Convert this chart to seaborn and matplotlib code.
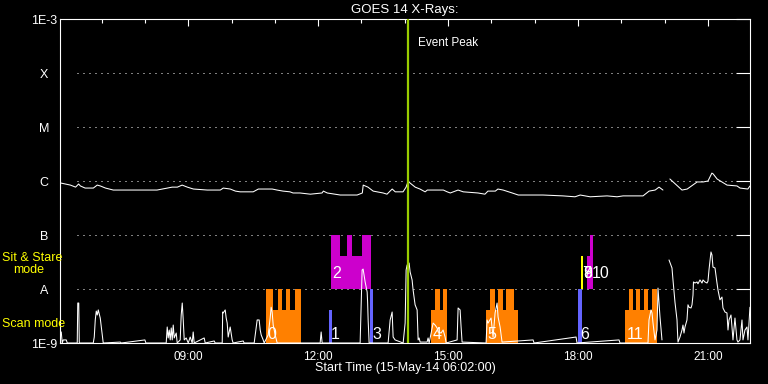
import matplotlib
matplotlib.use('Agg')

import matplotlib.pyplot as plt
from matplotlib.ticker import NullLocator, FixedLocator
import seaborn as sns
import pandas as pd
import numpy as np

# GOES long channel (1-8 A), hours of day / W m^-2
long_hours = [6.05, 6.28, 6.40, 6.47, 6.51, 6.62, 6.81, 6.90, 6.97, 7.09, 7.27, 7.62,
              7.89, 8.08, 8.28, 8.52, 8.63, 8.75, 8.86, 8.98, 9.12, 9.44, 9.74, 9.81,
              9.97, 10.09, 10.20, 10.50, 10.62, 10.82, 10.94, 11.05, 11.19, 11.35, 11.42,
              11.58, 11.82, 12.09, 12.12, 12.21, 12.51, 12.90, 13.02, 13.04, 13.15, 13.27,
              13.50, 13.59, 13.66, 13.71, 13.78, 13.96, 14.03, 14.08, 14.12, 14.24, 14.35,
              14.47, 14.52, 14.89, 14.98, 15.05, 15.23, 15.35, 15.69, 15.85, 15.92, 16.09,
              16.15, 16.27, 16.48, 16.62, 16.96, 17.19, 17.65, 17.93, 18.05, 18.28, 18.67,
              18.90, 19.04, 19.38, 19.50, 19.64, 19.78, 19.87, 19.96]
long_flux = [9.2e-7, 8.4e-7, 7.7e-7, 8.8e-7, 8.1e-7, 7.4e-7, 7.4e-7, 8.4e-7, 8.1e-7, 7.4e-7,
             6.8e-7, 6.8e-7, 6.8e-7, 6.8e-7, 6.8e-7, 7.4e-7, 7.7e-7, 7.7e-7, 8.4e-7, 7.7e-7,
             7.1e-7, 6.8e-7, 6.8e-7, 7.4e-7, 7.1e-7, 6.5e-7, 6.3e-7, 6.3e-7, 7.1e-7, 7.1e-7,
             7.1e-7, 6.8e-7, 6.5e-7, 6.3e-7, 6.0e-7, 6.0e-7, 5.7e-7, 6.0e-7, 6.5e-7, 6.0e-7,
             5.5e-7, 5.5e-7, 6.0e-7, 8.4e-7, 7.7e-7, 6.5e-7, 6.0e-7, 5.7e-7, 6.5e-7, 7.1e-7,
             6.3e-7, 6.3e-7, 7.7e-7, 1.0e-6, 9.2e-7, 7.7e-7, 7.1e-7, 6.3e-7, 6.8e-7, 6.8e-7,
             6.3e-7, 6.0e-7, 6.8e-7, 6.3e-7, 6.0e-7, 5.7e-7, 6.5e-7, 6.5e-7, 7.1e-7, 6.8e-7,
             6.0e-7, 5.5e-7, 5.5e-7, 5.5e-7, 5.3e-7, 5.1e-7, 5.5e-7, 5.1e-7, 5.3e-7, 5.1e-7,
             5.3e-7, 5.3e-7, 5.3e-7, 6.5e-7, 6.8e-7, 7.7e-7, 6.8e-7]
long_hours_2 = [20.12, 20.40, 20.52, 20.75, 20.89, 21.00, 21.09, 21.12, 21.21, 21.44,
                21.67, 21.74, 21.92, 21.97]
long_flux_2 = [1.09e-6, 6.8e-7, 7.1e-7, 9.6e-7, 9.6e-7, 1.0e-6, 1.4e-6, 1.35e-6, 1.09e-6,
               8.4e-7, 8.1e-7, 7.4e-7, 7.1e-7, 8.1e-7]

# GOES short channel (0.5-4 A)
short_hours = [6.046, 6.069, 6.092, 6.115, 6.185, 6.208, 6.438, 6.45, 6.473, 6.485, 6.808,
               6.831, 6.854, 6.877, 6.9, 6.923, 6.969, 7.015, 7.038, 7.431, 7.454, 8.0, 8.023,
               8.492, 8.515, 8.538, 8.562, 8.585, 8.608, 8.631, 8.654, 8.677, 8.723, 8.746,
               8.815, 8.838, 8.862, 8.885, 8.908, 8.954, 9.0, 9.046, 9.092, 9.115, 9.138,
               9.369, 9.392, 9.6, 9.623, 9.785, 9.796, 9.808, 9.854, 9.877, 9.9, 9.923, 9.969,
               10.015, 10.038, 10.269, 10.292, 10.523, 10.569, 10.592, 10.638, 10.662, 10.685,
               10.731, 10.754, 10.846, 10.892, 10.915, 10.938, 10.962, 11.008, 11.054, 12.046,
               12.069, 12.092, 12.969, 13.015, 13.038, 13.085, 13.131, 13.142, 13.154, 13.177,
               13.615, 13.662, 13.708, 13.731, 13.777, 13.962, 14.008, 14.031, 14.054, 14.1,
               14.123, 14.169, 14.192, 14.238, 14.285, 14.308, 14.331, 14.354, 14.515, 14.538,
               14.562, 14.654, 14.7, 14.746, 14.769, 14.838, 14.885, 14.931, 14.954, 15.208,
               15.231, 15.277, 15.3, 15.323, 15.877, 15.9, 15.923, 15.992, 16.038, 16.085,
               16.131, 16.154, 16.2, 16.246, 16.962, 16.985, 17.954, 17.977, 18.946, 18.969,
               19.615, 19.638, 19.685, 19.708, 19.731, 19.777, 19.823, 19.846, 19.892, 19.915,
               19.938]
short_flux = [1.6e-9, 1.6e-9, 1.0e-9, 1.14e-9, 1.14e-9, 1.0e-9, 1.0e-9, 5.5e-9, 5.5e-9, 1.0e-9,
              1.0e-9, 1.29e-9, 2.67e-9, 3.9e-9, 3.3e-9, 4.1e-9, 2.9e-9, 1.41e-9, 1.0e-9,
              1.04e-9, 1.0e-9, 1.14e-9, 1.0e-9, 1.0e-9, 1.98e-9, 1.24e-9, 1.74e-9, 1.14e-9,
              1.9e-9, 1.14e-9, 2.15e-9, 1.24e-9, 1.53e-9, 1.0e-9, 1.14e-9, 3.3e-9, 5.5e-9,
              2.67e-9, 1.14e-9, 1.24e-9, 1.0e-9, 1.29e-9, 1.0e-9, 1.6e-9, 1.0e-9, 1.24e-9,
              1.0e-9, 1.09e-9, 1.0e-9, 1.0e-9, 3.75e-9, 3.6e-9, 4.1e-9, 2.9e-9, 2.34e-9,
              1.29e-9, 1.98e-9, 1.14e-9, 1.0e-9, 1.09e-9, 1.0e-9, 1.0e-9, 1.9e-9, 2.67e-9,
              2.67e-9, 1.74e-9, 1.41e-9, 1.14e-9, 1.0e-9, 1.41e-9, 2.9e-9, 4.6e-9, 3.75e-9,
              2.15e-9, 1.41e-9, 1.0e-9, 1.0e-9, 1.6e-9, 1.0e-9, 1.0e-9, 2.25e-8, 2.34e-8,
              1.35e-8, 8.8e-9, 5.7e-9, 2.67e-9, 1.0e-9, 1.0e-9, 2.67e-9, 3.75e-9, 1.29e-9,
              1.14e-9, 1.0e-9, 2.34e-9, 2.25e-8, 2.78e-8, 3.03e-8, 2.07e-8, 1.47e-8, 9.6e-9,
              5.1e-9, 4.1e-9, 1.14e-9, 1.24e-9, 1.04e-9, 1.04e-9, 1.24e-9, 1.0e-9, 2.34e-9,
              2.15e-9, 1.9e-9, 1.6e-9, 1.53e-9, 1.74e-9, 1.29e-9, 1.0e-9, 1.14e-9, 4.45e-9,
              4.1e-9, 1.98e-9, 1.04e-9, 1.0e-9, 2.67e-9, 2.34e-9, 2.9e-9, 1.29e-9, 3.6e-9,
              5.5e-9, 3.03e-9, 1.98e-9, 1.04e-9, 1.14e-9, 1.0e-9, 1.29e-9, 1.0e-9, 1.14e-9,
              1.0e-9, 1.0e-9, 2.67e-9, 4.1e-9, 3.6e-9, 2.34e-9, 1.14e-9, 1.74e-9, 1.04e-8,
              3.03e-9, 1.9e-9, 1.14e-9]
short_hours_2 = [20.1, 20.169, 20.192, 20.238, 20.285, 20.296, 20.308, 20.354, 20.4, 20.423,
                 20.446, 20.469, 20.515, 20.538, 20.562, 20.608, 20.631, 20.654, 20.665, 20.7,
                 20.746, 20.769, 20.815, 20.862, 20.885, 20.931, 20.977, 21.0, 21.023, 21.069,
                 21.092, 21.115, 21.162, 21.208, 21.231, 21.277, 21.323, 21.346, 21.392,
                 21.438, 21.462, 21.485, 21.531, 21.554, 21.577, 21.623, 21.669, 21.692,
                 21.738, 21.785, 21.808, 21.854, 21.9, 21.923, 21.969]
short_flux_2 = [3.45e-8, 2.45e-8, 1.47e-8, 5.7e-9, 2.67e-9, 1.6e-9, 1.04e-9, 1.29e-9, 1.74e-9,
                2.15e-9, 1.53e-9, 1.98e-9, 2.67e-9, 5.1e-9, 4.6e-9, 4.45e-9, 5.1e-9, 7.7e-9,
                1.35e-8, 1.29e-8, 1.35e-8, 1.25e-8, 1.47e-8, 1.29e-8, 1.47e-8, 1.35e-8,
                1.29e-8, 1.4e-8, 2.25e-8, 4.85e-8, 4.27e-8, 2.55e-8, 2.45e-8, 1.29e-8, 9.6e-9,
                6.3e-9, 7.1e-9, 4.45e-9, 3.75e-9, 3.6e-9, 1.74e-9, 2.67e-9, 3.3e-9, 1.98e-9,
                1.14e-9, 2.9e-9, 1.14e-9, 1.04e-9, 1.14e-9, 2.67e-9, 1.14e-9, 1.74e-9,
                1.98e-9, 1.14e-9, 4.6e-9]

# observation blocks: start hour, end hour, low flux, high flux
orange_start = [10.80, 14.608, 15.877, 19.085,
                10.80, 11.077, 11.262, 11.469, 14.70, 14.885,
                15.969, 16.154, 16.338, 19.177, 19.338, 19.523, 19.708]
orange_end = [11.608, 14.977, 16.615, 19.823,
              10.962, 11.169, 11.354, 11.608, 14.815, 14.977,
              16.085, 16.269, 16.523, 19.269, 19.431, 19.615, 19.823]
orange_lo = [1e-9] * 4 + [4.1e-9] * 13
orange_hi = [4.1e-9] * 4 + [1e-8] * 13

magenta_start = [12.30, 12.30, 12.669, 13.015, 18.208, 18.277]
magenta_end = [13.223, 12.508, 12.785, 13.223, 18.346, 18.346]
magenta_lo = [1e-8, 4.1e-8, 4.1e-8, 4.1e-8, 1e-8, 4.1e-8]
magenta_hi = [4.1e-8, 1e-7, 1e-7, 1e-7, 4.1e-8, 1e-7]

yellow_start = [18.069, 18.082]
yellow_end = [18.105, 18.100]
yellow_lo = [1e-8, 1e-8]
yellow_hi = [4.1e-8, 1e-7]

blue_start = [12.254, 13.20, 18.00]
blue_end = [12.323, 13.269, 18.085]
blue_lo = [1e-9, 1e-9, 1e-9]
blue_hi = [4.1e-9, 1e-8, 1e-8]

obs_labels = ['0', '1', '2', '3', '4', '5', '6', '7', '8', '9', '10', '11']
obs_label_x = [10.823, 12.30, 12.323, 13.246, 14.654, 15.90, 18.046, 18.105, 18.115, 18.125,
               18.32, 19.131]
obs_label_y = [1.19e-9, 1.19e-9, 1.6e-8, 1.19e-9, 1.19e-9, 1.19e-9, 1.19e-9, 1.6e-8, 1.6e-8,
               1.6e-8, 1.6e-8, 1.19e-9]

event_peak = 14.077
levels = [1e-3, 1e-4, 1e-5, 1e-6, 1e-7, 1e-8, 1e-9]
level_names = ['1E-3', 'X', 'M', 'C', 'B', 'A', '1E-9']
hour_ticks = [9, 12, 15, 18, 21]
hour_labels = ['09:00', '12:00', '15:00', '18:00', '21:00']

sns.set_theme(style='dark')
plt.rcParams['font.family'] = ['Liberation Sans', 'DejaVu Sans']
plt.rcParams['axes.facecolor'] = 'black'
plt.rcParams['figure.facecolor'] = 'black'

fig = plt.figure(figsize=(7.68, 3.84), dpi=100)
ax = fig.add_axes([60 / 768, 41 / 384, 690 / 768, 324 / 384])
ax.set_facecolor('black')
ax.set_yscale('log')

lines = pd.concat([
    pd.DataFrame({'hour': long_hours, 'flux': long_flux, 'seg': 'l1'}),
    pd.DataFrame({'hour': long_hours_2, 'flux': long_flux_2, 'seg': 'l2'}),
    pd.DataFrame({'hour': short_hours, 'flux': short_flux, 'seg': 's1'}),
    pd.DataFrame({'hour': short_hours_2, 'flux': short_flux_2, 'seg': 's2'}),
])

def blocks(start, end, lo, hi, color):
    start = np.array(start)
    end = np.array(end)
    lo = np.array(lo)
    hi = np.array(hi)
    ax.bar(x=start, height=hi - lo, width=end - start, bottom=lo, align='edge',
           color=color, linewidth=0, zorder=2)

blocks(orange_start, orange_end, orange_lo, orange_hi, '#ff8000')
blocks(magenta_start, magenta_end, magenta_lo, magenta_hi, '#cc00cc')
blocks(yellow_start, yellow_end, yellow_lo, yellow_hi, '#ffff00')
blocks(blue_start, blue_end, blue_lo, blue_hi, '#6464ff')

sns.lineplot(data=lines, x='hour', y='flux', units='seg', estimator=None, sort=False,
             color='white', linewidth=0.75, ax=ax, legend=False, zorder=3)

ax.axvline(event_peak, color='#99cc00', linewidth=1.6, zorder=4)
ax.text(14.31, 3.6e-4, 'Event Peak', color='white', fontsize=8.5, va='center')

for lab, x, y in zip(obs_labels, obs_label_x, obs_label_y):
    ax.text(x, y, lab, color='white', fontsize=11.5, va='baseline', zorder=5)

for lv in levels[1:-1]:
    ax.axhline(lv, xmin=0.025, xmax=0.975, color='white', linewidth=0.72,
               linestyle=(0, (1, 5)), zorder=1)

ax.set_xlim(6.04, 21.97)
ax.set_ylim(1e-9, 1e-3)
ax.set_yticks(levels)
ax.set_yticklabels(level_names)
ax.yaxis.set_minor_locator(NullLocator())
ax.set_xticks(hour_ticks)
ax.set_xticklabels(hour_labels)
ax.xaxis.set_minor_locator(FixedLocator(list(range(7, 22))))
ax.set_xlabel('')
ax.set_ylabel('')

ax.tick_params(axis='y', which='major', direction='in', length=10, width=0.8,
               colors='white', right=True, pad=11.5, labelsize=9)
ax.tick_params(axis='x', which='major', direction='in', length=5, width=0.8,
               colors='white', top=True, pad=6, labelsize=8.5)
ax.tick_params(axis='x', which='minor', direction='in', length=3, width=0.8,
               colors='white', top=True)
for lbl in ax.get_yticklabels():
    lbl.set_horizontalalignment('center')
for sp in ax.spines.values():
    sp.set_color('white')
    sp.set_linewidth(0.8)
    sp.set_visible(True)
ax.grid(False)

fig.text(405 / 768, 1 - 10 / 384, 'GOES 14 X-Rays:', color='white', fontsize=9.5,
         ha='center', va='center')
fig.text(405 / 768, 1 - 368 / 384, 'Start Time (15-May-14 06:02:00)', color='white',
         fontsize=9, ha='center', va='center')
fig.text(2 / 768, 1 - 258 / 384, 'Sit & Stare', color='#ffff00', fontsize=9, va='center')
fig.text(13 / 768, 1 - 270 / 384, 'mode', color='#ffff00', fontsize=9, va='center')
fig.text(2 / 768, 1 - 324 / 384, 'Scan mode', color='#ffff00', fontsize=9, va='center')

fig.savefig('out.png', dpi=100, facecolor='black')
plt.close(fig)
